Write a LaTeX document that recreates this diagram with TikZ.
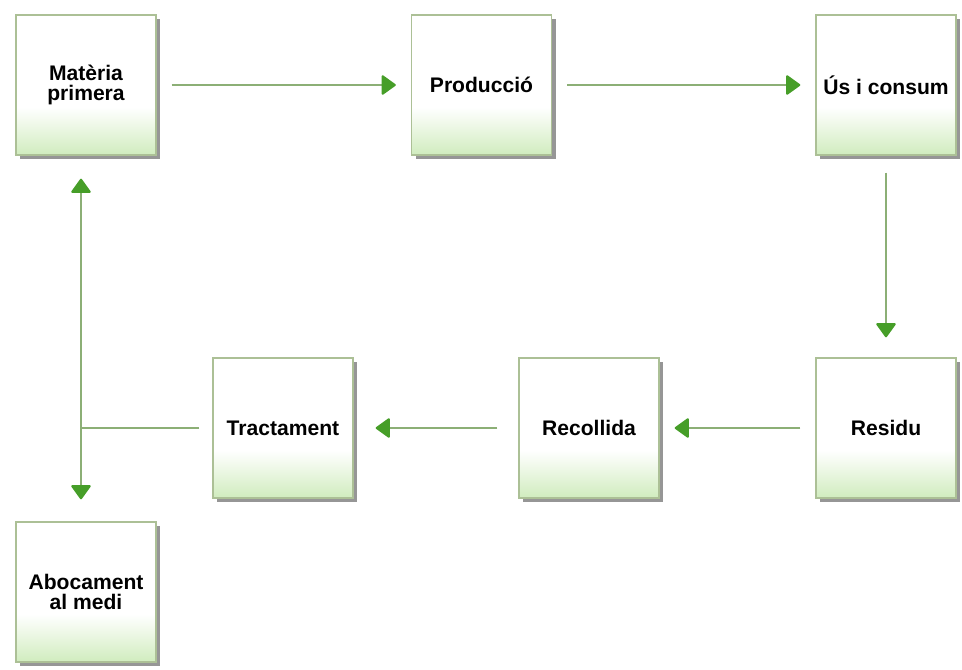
\documentclass[tikz,border=0pt]{standalone}
\usepackage{fontspec}
\setmainfont{Liberation Sans}
\usetikzlibrary{arrows.meta,shadows}
\definecolor{boxline}{RGB}{172,192,150}
\definecolor{boxfoot}{RGB}{208,236,190}
\definecolor{flowline}{RGB}{140,175,118}
\definecolor{flowhead}{RGB}{70,158,40}
\pgfdeclareverticalshading{stagefill}{100bp}{color(0bp)=(boxfoot); color(25bp)=(boxfoot); color(42bp)=(white); color(100bp)=(white)}
\tikzset{
  stage/.style={draw=boxline, line width=0.8pt, shading=stagefill,
    minimum width=2.8cm, minimum height=2.8cm, inner sep=0pt, align=center,
    font=\bfseries\fontsize{12pt}{11.5pt}\selectfont,
    drop shadow={shadow xshift=2.5pt, shadow yshift=-2.5pt, fill=black!55, opacity=0.75}},
  link/.style={draw=flowline, line width=1.2pt},
  flow/.style={link, -{Triangle[length=0.3cm, width=0.42cm, round, color=flowhead]}, shorten >=0.3cm, shorten <=0.3cm}
}
\begin{document}
\begin{tikzpicture}
\useasboundingbox [fill=white] (0, 0) rectangle (19.24, 13.38);

\node (mat) at (1.72, 11.68) [stage] {Matèria\\primera};
\node (prod) at (9.63, 11.68) [stage] {Producció};
\node (us) at (17.72, 11.68) [stage] {Ús i consum};
\node (res) at (17.72, 4.82) [stage] {Residu};
\node (rec) at (11.78, 4.82) [stage] {Recollida};
\node (tra) at (5.66, 4.82) [stage] {Tractament};
\node (abo) at (1.72, 1.54) [stage] {Abocament\\al medi};
\coordinate (jn) at (1.62, 4.82);

\draw [flow] (mat) -- (prod);
\draw [flow] (prod) -- (us);
\draw [flow, shorten <=0.34cm, shorten >=0.4cm] (us) -- (res);
\draw [flow] (res) -- (rec);
\draw [flow, shorten <=0.42cm, shorten >=0.44cm] (rec) -- (tra);
\draw [link, shorten <=0.26cm] (tra.west) -- (jn);
\draw [flow, shorten <=0pt, shorten >=0.46cm] (jn) -- (jn |- mat.south);
\draw [flow, shorten <=0pt, shorten >=0.44cm] (jn) -- (jn |- abo.north);
\end{tikzpicture}
\end{document}
